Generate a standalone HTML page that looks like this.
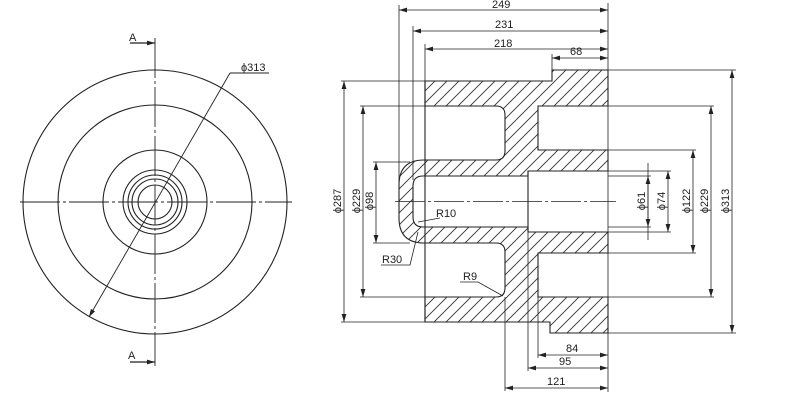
<!DOCTYPE html>
<html><head><meta charset="utf-8"><style>
html,body{margin:0;padding:0;background:#fff;}
svg{display:block;}
text{font-family:"Liberation Sans",sans-serif;font-size:11px;fill:#222;}
</style></head><body>
<svg width="800" height="409" viewBox="0 0 800 409" xmlns="http://www.w3.org/2000/svg">
<defs>
<pattern id="h" width="12" height="12" patternUnits="userSpaceOnUse">
<path d="M-1,13 L13,-1 M-1,1 L1,-1 M11,13 L13,11" stroke="#333" stroke-width="0.9"/>
</pattern>
<marker id="a" viewBox="0 0 10 6" refX="10" refY="3" markerWidth="8" markerHeight="5" orient="auto-start-reverse" markerUnits="userSpaceOnUse">
<path d="M0,0 L10,3 L0,6 Z" fill="#222"/>
</marker>
</defs>
<g stroke="#222" stroke-width="1.1" fill="none">
<!-- Left view -->
<circle cx="155" cy="202" r="132"/>
<circle cx="155" cy="202" r="97"/>
<circle cx="155" cy="202" r="52"/>
<circle cx="155" cy="202" r="32"/>
<circle cx="155" cy="202" r="27"/>
<circle cx="155" cy="202" r="23"/>
<circle cx="155" cy="202" r="17"/>
<line x1="20" y1="202" x2="292" y2="202" stroke-dasharray="40,3,3,3" stroke-width="0.9"/>
<line x1="155" y1="38" x2="155" y2="366" stroke-dasharray="40,3,3,3" stroke-width="0.9"/>
<line x1="89" y1="317" x2="230" y2="73" marker-start="url(#a)" stroke-width="0.9"/>
<line x1="230" y1="73" x2="269" y2="73" stroke-width="0.9"/>
<line x1="130" y1="43" x2="155" y2="43" marker-end="url(#a)" stroke-width="1.3"/>
<line x1="130" y1="362" x2="155" y2="362" marker-end="url(#a)" stroke-width="1.3"/>

<!-- Section hatch -->
<path fill="url(#h)" stroke="none" d="M399,201 L399,185 Q399,160 424,160 L496,160 Q505,160 505,151 L505,115 Q505,106 496,106 L425,106 L425,81 L552,81 L552,70 L608,70 L608,106 L538,106 L538,150 L608,150 L608,171 L528,171 L528,176 L423,176 Q413,176 413,186 L413,202 L413,217 Q413,227 423,227 L528,227 L528,232 L608,232 L608,253 L538,253 L538,297 L608,297 L608,333 L550,333 L550,322 L425,322 L425,297 L496,297 Q505,297 505,288 L505,252 Q505,243 496,243 L424,243 Q399,243 399,218 Z"/>
<path d="M399,201 L399,185 Q399,160 424,160 L496,160 Q505,160 505,151 L505,115 Q505,106 496,106 L425,106 L425,81 L552,81 L552,70 L608,70 L608,106 L538,106 L538,150 L608,150 L608,171 L528,171 L528,176 L423,176 Q413,176 413,186 L413,201"/>
<path d="M399,201 L399,218 Q399,243 424,243 L496,243 Q505,243 505,252 L505,288 Q505,297 496,297 L425,297 L425,322 L550,322 L550,333 L608,333 L608,297 L538,297 L538,253 L608,253 L608,232 L528,232 L528,227 L423,227 Q413,227 413,217 L413,201"/>
<line x1="425" y1="81" x2="425" y2="322"/>
<line x1="528" y1="171" x2="528" y2="232"/>
<line x1="395" y1="201.5" x2="616" y2="201.5" stroke-dasharray="30,3,3,3" stroke-width="0.8"/>

<g stroke-width="0.8">
<line x1="399" y1="5" x2="399" y2="188"/>
<line x1="413" y1="26" x2="413" y2="180"/>
<line x1="425" y1="44" x2="425" y2="81"/>
<line x1="552" y1="54" x2="552" y2="70"/>
<line x1="608" y1="3" x2="608" y2="392"/>
<line x1="399" y1="10" x2="608" y2="10" marker-start="url(#a)" marker-end="url(#a)"/>
<line x1="413" y1="31" x2="608" y2="31" marker-start="url(#a)" marker-end="url(#a)"/>
<line x1="425" y1="49" x2="608" y2="49" marker-start="url(#a)" marker-end="url(#a)"/>
<line x1="552" y1="58" x2="608" y2="58" marker-start="url(#a)" marker-end="url(#a)"/>
<line x1="538" y1="297" x2="538" y2="358"/>
<line x1="528" y1="232" x2="528" y2="371"/>
<line x1="505" y1="297" x2="505" y2="391"/>
<line x1="538" y1="355" x2="608" y2="355" marker-start="url(#a)" marker-end="url(#a)"/>
<line x1="528" y1="368" x2="608" y2="368" marker-start="url(#a)" marker-end="url(#a)"/>
<line x1="505" y1="388" x2="608" y2="388" marker-start="url(#a)" marker-end="url(#a)"/>
<line x1="341" y1="81" x2="425" y2="81"/>
<line x1="341" y1="322" x2="425" y2="322"/>
<line x1="360" y1="106" x2="425" y2="106"/>
<line x1="360" y1="297" x2="425" y2="297"/>
<line x1="373" y1="162" x2="410" y2="162"/>
<line x1="373" y1="243" x2="410" y2="243"/>
<line x1="344" y1="81" x2="344" y2="322" marker-start="url(#a)" marker-end="url(#a)"/>
<line x1="363" y1="106" x2="363" y2="297" marker-start="url(#a)" marker-end="url(#a)"/>
<line x1="376" y1="162" x2="376" y2="243" marker-start="url(#a)" marker-end="url(#a)"/>
<line x1="608" y1="70" x2="736" y2="70"/>
<line x1="608" y1="333" x2="736" y2="333"/>
<line x1="608" y1="106" x2="714" y2="106"/>
<line x1="608" y1="297" x2="714" y2="297"/>
<line x1="608" y1="150" x2="696" y2="150"/>
<line x1="608" y1="253" x2="696" y2="253"/>
<line x1="608" y1="171" x2="671" y2="171"/>
<line x1="608" y1="232" x2="671" y2="232"/>
<line x1="608" y1="176" x2="651" y2="176"/>
<line x1="608" y1="227" x2="651" y2="227"/>
<line x1="648" y1="163" x2="648" y2="240"/>
<line x1="648" y1="176" x2="648" y2="227" marker-start="url(#a)" marker-end="url(#a)"/>
<line x1="668" y1="171" x2="668" y2="232" marker-start="url(#a)" marker-end="url(#a)"/>
<line x1="693" y1="150" x2="693" y2="253" marker-start="url(#a)" marker-end="url(#a)"/>
<line x1="711" y1="106" x2="711" y2="297" marker-start="url(#a)" marker-end="url(#a)"/>
<line x1="732" y1="70" x2="732" y2="333" marker-start="url(#a)" marker-end="url(#a)"/>
<polyline points="440,218 418,222"/>
<polyline points="381,265 410,265 418,232"/>
<polyline points="460,282 478,282 503,296"/>
</g>
</g>
<g>
<text x="129" y="41" font-size="12">A</text>
<text x="128" y="359" font-size="12">A</text>
<text x="241" y="71" font-size="10">ϕ313</text>
<text x="492" y="8">249</text>
<text x="495" y="28">231</text>
<text x="494" y="47">218</text>
<text x="570" y="55">68</text>
<text x="566" y="352">84</text>
<text x="559" y="365">95</text>
<text x="547" y="385">121</text>
<text x="436" y="217">R10</text>
<text x="382" y="263">R30</text>
<text x="463" y="280">R9</text>
<text transform="translate(341,201) rotate(-90)" text-anchor="middle">ϕ287</text>
<text transform="translate(360,201) rotate(-90)" text-anchor="middle">ϕ229</text>
<text transform="translate(373,201) rotate(-90)" text-anchor="middle">ϕ98</text>
<text transform="translate(645,201) rotate(-90)" text-anchor="middle">ϕ61</text>
<text transform="translate(665,201) rotate(-90)" text-anchor="middle">ϕ74</text>
<text transform="translate(690,201) rotate(-90)" text-anchor="middle">ϕ122</text>
<text transform="translate(708,201) rotate(-90)" text-anchor="middle">ϕ229</text>
<text transform="translate(729,201) rotate(-90)" text-anchor="middle">ϕ313</text>
</g>
</svg>
</body></html>
